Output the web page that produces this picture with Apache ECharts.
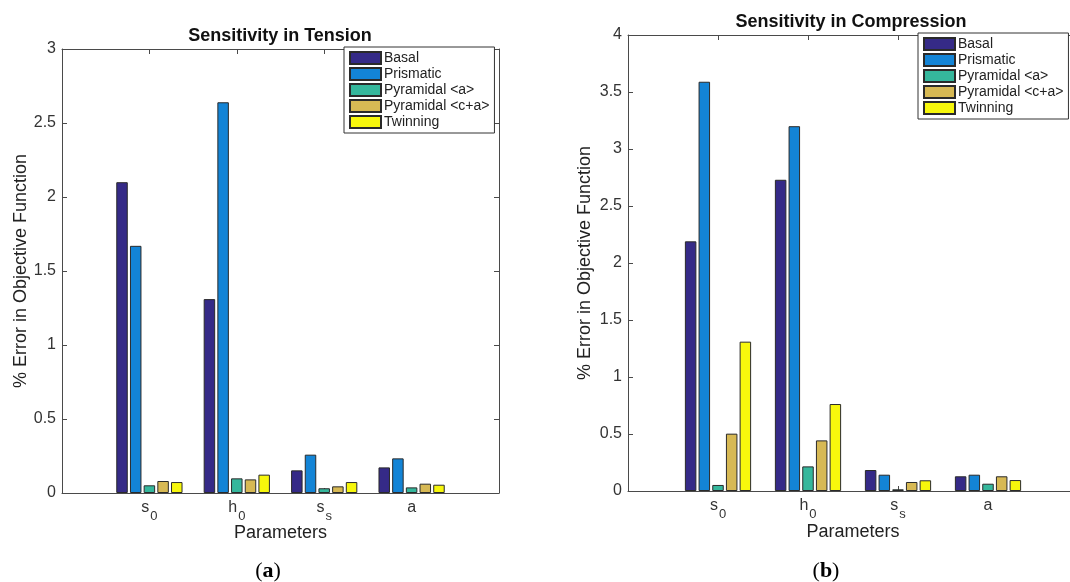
<!DOCTYPE html>
<html><head><meta charset="utf-8">
<script src="https://cdn.jsdelivr.net/npm/echarts@6/dist/echarts.min.js"></script>
<style>html,body{margin:0;padding:0;background:#fff}#c{width:1070px;height:582px}</style>
</head><body><div id="c"></div>
<script>
// Categories (main letter + subscript)
const catMain = ['s', 'h', 's', 'a'];
const catSub = ['0', '0', 's', ''];
const seriesNames = ['Basal', 'Prismatic', 'Pyramidal <a>', 'Pyramidal <c+a>', 'Twinning'];

// Sensitivity in Tension
const tensionBasal = [2.10, 1.31, 0.153, 0.173];
const tensionPrismatic = [1.67, 2.64, 0.259, 0.234];
const tensionPyrA = [0.052, 0.099, 0.032, 0.038];
const tensionPyrCA = [0.081, 0.092, 0.045, 0.063];
const tensionTwin = [0.074, 0.124, 0.074, 0.056];

// Sensitivity in Compression
const compBasal = [2.19, 2.73, 0.184, 0.129];
const compPrismatic = [3.59, 3.20, 0.143, 0.143];
const compPyrA = [0.053, 0.216, 0.015, 0.064];
const compPyrCA = [0.503, 0.444, 0.079, 0.129];
const compTwin = [1.31, 0.763, 0.094, 0.096];

const tensionTicks = [0, 0.5, 1, 1.5, 2, 2.5, 3];
const compTicks = [0, 0.5, 1, 1.5, 2, 2.5, 3, 3.5, 4];

const colors = ['#352a87', '#1384d6', '#35b79c', '#d7b954', '#f7f70c'];
const axisColor = '#4a4a4a';
const FONT = 'Liberation Sans';

function mkSeries(groups, gi) {
  return seriesNames.map((n, i) => ({
    name: n, type: 'bar', xAxisIndex: gi * 2, yAxisIndex: gi * 2,
    barWidth: 11.5, barGap: '19%',
    data: groups[i].map((v, k) => [k + 1, v]),
    itemStyle: { color: colors[i], borderColor: '#2a2a2a', borderWidth: 1 },
    emphasis: { disabled: true }
  }));
}

function xAxes(gi, nameGap) {
  const common = {
    gridIndex: gi, type: 'value', min: 0, max: 5, interval: 1,
    axisLine: { show: true, onZero: false, lineStyle: { color: axisColor, width: 1 } },
    axisTick: { show: true, inside: true, length: 5, lineStyle: { color: axisColor } },
    splitLine: { show: false }
  };
  return [
    Object.assign({}, common, {
      position: 'bottom',
      name: 'Parameters', nameLocation: 'middle', nameGap: nameGap, nameMoveOverlap: false,
      nameTextStyle: { fontFamily: FONT, fontSize: 18, color: '#222' },
      axisLabel: {
        margin: 7,
        formatter: v => (v >= 1 && v <= 4) ? ('{m|' + catMain[v - 1] + '}' + (catSub[v - 1] ? '{s|' + catSub[v - 1] + '}' : '')) : '',
        rich: {
          m: { fontFamily: FONT, fontSize: 16, color: '#333', verticalAlign: 'top' },
          s: { fontFamily: FONT, fontSize: 13, color: '#333', padding: [10, 0, 0, 1], verticalAlign: 'top' }
        }
      }
    }),
    Object.assign({}, common, { position: 'top', axisLabel: { show: false } })
  ];
}

function yAxes(gi, ticks, nameGap) {
  const common = {
    gridIndex: gi, type: 'value', min: ticks[0], max: ticks[ticks.length - 1], interval: 0.5,
    axisLine: { show: true, onZero: false, lineStyle: { color: axisColor, width: 1 } },
    axisTick: { show: true, inside: true, length: 5, lineStyle: { color: axisColor } },
    splitLine: { show: false }
  };
  return [
    Object.assign({}, common, {
      position: 'left',
      name: '% Error in Objective Function', nameLocation: 'middle', nameGap: nameGap,
      nameTextStyle: { fontFamily: FONT, fontSize: 18, color: '#222' },
      axisLabel: { margin: 6, fontFamily: FONT, fontSize: 16, color: '#333' }
    }),
    Object.assign({}, common, { position: 'right', axisLabel: { show: false } })
  ];
}

function legend(left, top) {
  return {
    left: left, top: top, orient: 'vertical',
    data: seriesNames, icon: 'rect',
    itemWidth: 31, itemHeight: 12, itemGap: 2,
    padding: [4, 5, 4, 5],
    backgroundColor: '#fff', borderColor: '#333', borderWidth: 1, borderRadius: 0,
    selectedMode: false,
    textStyle: { fontFamily: FONT, fontSize: 14, color: '#222', padding: [0, 0, 0, -2] }
  };
}

const chart = echarts.init(document.getElementById('c'));
chart.setOption({
  animation: false,
  backgroundColor: '#fff',
  title: [
    { text: 'Sensitivity in Tension', left: 275, top: 22, textAlign: 'center',
      textStyle: { fontFamily: FONT, fontSize: 18, fontWeight: 'bold', color: '#111' } },
    { text: 'Sensitivity in Compression', left: 846, top: 8, textAlign: 'center',
      textStyle: { fontFamily: FONT, fontSize: 18, fontWeight: 'bold', color: '#111' } }
  ],
  legend: [legend(344, 47), legend(918, 33)],
  grid: [
    { left: 62, top: 49, width: 437, height: 444, outerBoundsMode: 'none' },
    { left: 628, top: 35, width: 450, height: 456, outerBoundsMode: 'none' }
  ],
  xAxis: xAxes(0, 31).concat(xAxes(1, 32)),
  yAxis: yAxes(0, tensionTicks, 32).concat(yAxes(1, compTicks, 34)),
  series: mkSeries([tensionBasal, tensionPrismatic, tensionPyrA, tensionPyrCA, tensionTwin], 0)
    .concat(mkSeries([compBasal, compPrismatic, compPyrA, compPyrCA, compTwin], 1)),
  graphic: [
    { type: 'text', x: 268, y: 571, style: { text: '({b|a})', fontFamily: 'Liberation Serif', fontSize: 22, fill: '#000', align: 'center', verticalAlign: 'middle',
      rich: { b: { fontFamily: 'Liberation Serif', fontSize: 22, fontWeight: 'bold', fill: '#000' } } } },
    { type: 'text', x: 826, y: 571, style: { text: '({b|b})', fontFamily: 'Liberation Serif', fontSize: 22, fill: '#000', align: 'center', verticalAlign: 'middle',
      rich: { b: { fontFamily: 'Liberation Serif', fontSize: 22, fontWeight: 'bold', fill: '#000' } } } }
  ]
});
</script>
</body></html>
